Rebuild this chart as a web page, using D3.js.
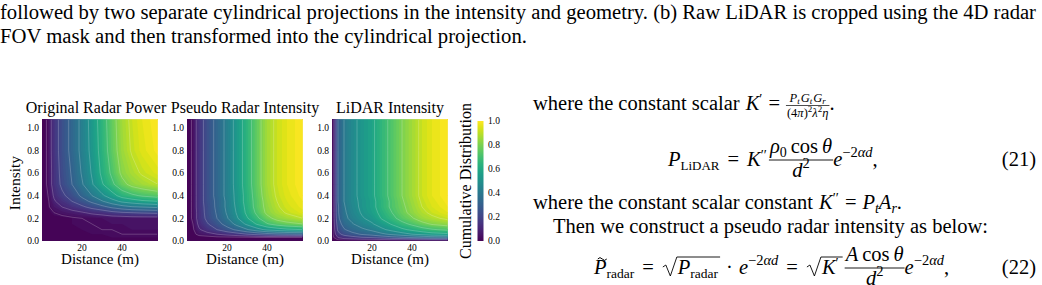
<!DOCTYPE html>
<html>
<head>
<meta charset="utf-8">
<script src="https://cdn.jsdelivr.net/npm/d3@7"></script>
<style>
  body { margin: 0; background: #fff; }
  svg text { font-family: "Liberation Serif", "Times New Roman", serif; fill: #000; }
</style>
</head>
<body>
<svg id="page" width="1042" height="285"></svg>
<script>
// grid knots (distance in m, intensity normalised)
const distanceKnots = [0, 3, 6, 10, 15, 20, 25, 30, 35, 40, 45, 50, 58];
const intensityKnots = [0, 0.03, 0.06, 0.1, 0.15, 0.2, 0.25, 0.3, 0.35, 0.4, 0.5, 0.6, 0.8, 1.077];

// cumulative distribution, one row per intensity knot (bottom row first)
const radarPower = [
  [0, 0, 0, 0, 0, 0, 0, 0, 0, 0, 0, 0, 0],
  [0, 0.00, 0.00, 0.00, 0.01, 0.01, 0.01, 0.01, 0.02, 0.02, 0.02, 0.02, 0.02],
  [0, 0.00, 0.00, 0.01, 0.01, 0.01, 0.02, 0.02, 0.02, 0.03, 0.03, 0.03, 0.03],
  [0, 0.00, 0.01, 0.01, 0.01, 0.02, 0.02, 0.03, 0.03, 0.03, 0.04, 0.04, 0.04],
  [0, 0.00, 0.01, 0.01, 0.02, 0.02, 0.03, 0.03, 0.04, 0.04, 0.05, 0.05, 0.05],
  [0, 0.00, 0.01, 0.01, 0.02, 0.03, 0.03, 0.04, 0.05, 0.05, 0.06, 0.06, 0.06],
  [0, 0.01, 0.03, 0.05, 0.07, 0.09, 0.12, 0.14, 0.17, 0.19, 0.20, 0.21, 0.22],
  [0, 0.02, 0.06, 0.10, 0.14, 0.18, 0.23, 0.27, 0.32, 0.36, 0.39, 0.40, 0.42],
  [0, 0.02, 0.09, 0.14, 0.20, 0.26, 0.32, 0.39, 0.46, 0.52, 0.55, 0.58, 0.60],
  [0, 0.03, 0.11, 0.18, 0.24, 0.32, 0.40, 0.48, 0.56, 0.64, 0.68, 0.71, 0.74],
  [0, 0.04, 0.14, 0.22, 0.30, 0.39, 0.49, 0.59, 0.68, 0.77, 0.83, 0.86, 0.90],
  [0, 0.04, 0.14, 0.23, 0.31, 0.41, 0.51, 0.62, 0.72, 0.82, 0.87, 0.91, 0.95],
  [0, 0.04, 0.15, 0.24, 0.33, 0.43, 0.53, 0.64, 0.75, 0.85, 0.91, 0.95, 0.99],
  [0, 0.04, 0.15, 0.24, 0.33, 0.43, 0.54, 0.65, 0.76, 0.86, 0.92, 0.96, 1.00]
];
const pseudoIntensity = [
  [0, 0, 0, 0, 0, 0, 0, 0, 0, 0, 0, 0, 0],
  [0, 0.00, 0.00, 0.00, 0.01, 0.01, 0.01, 0.01, 0.02, 0.02, 0.02, 0.02, 0.02],
  [0, 0.01, 0.05, 0.07, 0.10, 0.13, 0.16, 0.20, 0.23, 0.26, 0.28, 0.29, 0.30],
  [0, 0.02, 0.09, 0.14, 0.20, 0.26, 0.32, 0.39, 0.46, 0.52, 0.55, 0.58, 0.60],
  [0, 0.03, 0.12, 0.19, 0.26, 0.34, 0.43, 0.52, 0.61, 0.69, 0.74, 0.77, 0.80],
  [0, 0.04, 0.14, 0.22, 0.30, 0.39, 0.49, 0.59, 0.68, 0.77, 0.83, 0.86, 0.90],
  [0, 0.04, 0.14, 0.23, 0.31, 0.41, 0.51, 0.62, 0.72, 0.82, 0.87, 0.91, 0.95],
  [0, 0.04, 0.15, 0.23, 0.32, 0.42, 0.52, 0.63, 0.74, 0.83, 0.89, 0.93, 0.97],
  [0, 0.04, 0.15, 0.24, 0.32, 0.42, 0.53, 0.64, 0.74, 0.84, 0.90, 0.94, 0.98],
  [0, 0.04, 0.15, 0.24, 0.33, 0.43, 0.53, 0.64, 0.75, 0.85, 0.91, 0.95, 0.99],
  [0, 0.04, 0.15, 0.24, 0.33, 0.43, 0.54, 0.65, 0.76, 0.86, 0.92, 0.96, 1.00],
  [0, 0.04, 0.15, 0.24, 0.33, 0.43, 0.54, 0.65, 0.76, 0.86, 0.92, 0.96, 1.00],
  [0, 0.04, 0.15, 0.24, 0.33, 0.43, 0.54, 0.65, 0.76, 0.86, 0.92, 0.96, 1.00],
  [0, 0.04, 0.15, 0.24, 0.33, 0.43, 0.54, 0.65, 0.76, 0.86, 0.92, 0.96, 1.00]
];
const lidarIntensity = [
  [0, 0, 0, 0, 0, 0, 0, 0, 0, 0, 0, 0, 0],
  [0, 0.10, 0.14, 0.16, 0.19, 0.20, 0.23, 0.26, 0.28, 0.30, 0.32, 0.34, 0.35],
  [0, 0.17, 0.23, 0.27, 0.31, 0.34, 0.38, 0.42, 0.46, 0.50, 0.53, 0.56, 0.58],
  [0, 0.22, 0.29, 0.34, 0.38, 0.42, 0.48, 0.53, 0.58, 0.62, 0.66, 0.69, 0.72],
  [0, 0.25, 0.34, 0.39, 0.45, 0.49, 0.55, 0.61, 0.67, 0.72, 0.77, 0.81, 0.84],
  [0, 0.28, 0.37, 0.43, 0.49, 0.53, 0.61, 0.67, 0.74, 0.79, 0.85, 0.88, 0.92],
  [0, 0.29, 0.38, 0.45, 0.51, 0.56, 0.63, 0.70, 0.77, 0.83, 0.88, 0.92, 0.96],
  [0, 0.29, 0.39, 0.46, 0.52, 0.57, 0.65, 0.72, 0.78, 0.84, 0.90, 0.94, 0.98],
  [0, 0.30, 0.40, 0.47, 0.52, 0.57, 0.65, 0.72, 0.79, 0.85, 0.91, 0.95, 0.99],
  [0, 0.30, 0.40, 0.47, 0.53, 0.58, 0.66, 0.73, 0.80, 0.86, 0.92, 0.96, 1.00],
  [0, 0.30, 0.40, 0.47, 0.53, 0.58, 0.66, 0.73, 0.80, 0.86, 0.92, 0.96, 1.00],
  [0, 0.30, 0.40, 0.47, 0.53, 0.58, 0.66, 0.73, 0.80, 0.86, 0.92, 0.96, 1.00],
  [0, 0.30, 0.40, 0.47, 0.53, 0.58, 0.66, 0.73, 0.80, 0.86, 0.92, 0.96, 1.00],
  [0, 0.30, 0.40, 0.47, 0.53, 0.58, 0.66, 0.73, 0.80, 0.86, 0.92, 0.96, 1.00]
];

const panelTitles = ['Original Radar Power', 'Pseudo Radar Intensity', 'LiDAR Intensity'];
const panelGrids = [radarPower, pseudoIntensity, lidarIntensity];
const xTicks = [20, 40];
const yTicks = [0, 0.2, 0.4, 0.6, 0.8, 1.0];
const cbTicks = [0, 0.2, 0.4, 0.6, 0.8, 1.0];

const captionLines = [
  'followed by two separate cylindrical projections in the intensity and geometry. (b) Raw LiDAR is cropped using the 4D radar',
  'FOV mask and then transformed into the cylindrical projection.'
];

const svg = d3.select('#page');

// ---- caption text on top
svg.append('text').attr('x', 0).attr('y', 19).attr('font-size', 20.5)
  .attr('textLength', 1036).attr('lengthAdjust', 'spacingAndGlyphs').text(captionLines[0]);
svg.append('text').attr('x', 0).attr('y', 43).attr('font-size', 20.5)
  .attr('textLength', 527).attr('lengthAdjust', 'spacingAndGlyphs').text(captionLines[1]);

// ---- heatmaps
const lefts = [42, 187, 332];
const titleX = [96, 245, 390];
const pw = 116;
const plotTop = 119;
const plotBottom = 241;

const nx = distanceKnots.length;
const ny = intensityKnots.length;
const colX = d3.scaleLinear().domain(d3.range(nx)).range(distanceKnots).clamp(true);
const rowY = d3.scaleLinear().domain(d3.range(ny)).range(intensityKnots).clamp(true);
const fillLevels = d3.range(0, 1, 0.02);
const lineLevels = [0.03, 0.1, 0.2, 0.3, 0.4, 0.5, 0.6, 0.7, 0.8, 0.9];
const contours = d3.contours().size([nx, ny]);

const defs = svg.append('defs');

panelGrids.forEach((grid, k) => {
  const x = d3.scaleLinear().domain([0, 58]).range([lefts[k], lefts[k] + pw]);
  const y = d3.scaleLinear().domain([0, 1.077]).range([plotBottom, plotTop]);
  const values = grid.flat();
  const proj = d3.geoTransform({
    point(px, py) { this.stream.point(x(colX(px - 0.5)), y(rowY(py - 0.5))); }
  });
  const path = d3.geoPath(proj);

  defs.append('clipPath').attr('id', 'clip' + k).append('rect')
    .attr('x', lefts[k]).attr('y', plotTop).attr('width', pw).attr('height', plotBottom - plotTop);
  defs.append('clipPath').attr('id', 'clipIn' + k).append('rect')
    .attr('x', lefts[k] + 0.8).attr('y', plotTop + 0.8).attr('width', pw - 1.6).attr('height', plotBottom - plotTop - 1.6);

  svg.append('g').attr('clip-path', `url(#clip${k})`)
    .selectAll('path')
    .data(contours.thresholds(fillLevels)(values))
    .join('path')
    .attr('d', path)
    .attr('fill', d => d3.interpolateViridis(Math.min(1, d.value + 0.01)));

  svg.append('g').attr('clip-path', `url(#clipIn${k})`)
    .selectAll('path')
    .data(contours.thresholds(lineLevels)(values))
    .join('path')
    .attr('d', path)
    .attr('fill', 'none')
    .attr('stroke', '#fff')
    .attr('stroke-opacity', 0.3)
    .attr('stroke-width', 0.7);

  // ticks
  svg.append('g').selectAll('text')
    .data(yTicks)
    .join('text')
    .attr('x', lefts[k] - 3)
    .attr('y', d => y(d) + 3.3)
    .attr('text-anchor', 'end')
    .attr('font-size', 9.5)
    .text(d => d.toFixed(1));
  svg.append('g').selectAll('text')
    .data(xTicks)
    .join('text')
    .attr('x', d => x(d))
    .attr('y', 251)
    .attr('text-anchor', 'middle')
    .attr('font-size', 9.5)
    .text(d => d);

  svg.append('text')
    .attr('x', titleX[k])
    .attr('y', 113)
    .attr('text-anchor', 'middle')
    .attr('font-size', 16)
    .text(panelTitles[k]);
  svg.append('text')
    .attr('x', lefts[k] + pw / 2)
    .attr('y', 264)
    .attr('text-anchor', 'middle')
    .attr('font-size', 15)
    .text('Distance (m)');
});

svg.append('text')
  .attr('transform', 'translate(20,183) rotate(-90)')
  .attr('text-anchor', 'middle')
  .attr('font-size', 15.5)
  .text('Intensity');

// ---- colorbar
const cbY = d3.scaleLinear().domain([0, 1]).range([241, 121]);
const grad = defs.append('linearGradient').attr('id', 'viridis')
  .attr('x1', 0).attr('y1', 1).attr('x2', 0).attr('y2', 0);
grad.selectAll('stop')
  .data(d3.range(0, 1.0001, 0.05))
  .join('stop')
  .attr('offset', d => d)
  .attr('stop-color', d => d3.interpolateViridis(d));
svg.append('rect')
  .attr('x', 477.5).attr('y', cbY(1)).attr('width', 6).attr('height', cbY(0) - cbY(1))
  .attr('fill', 'url(#viridis)');
svg.append('g').selectAll('text')
  .data(cbTicks)
  .join('text')
  .attr('x', 488)
  .attr('y', d => cbY(d) + 3.3)
  .attr('font-size', 9.5)
  .text(d => d.toFixed(1));
svg.append('text')
  .attr('transform', 'translate(471,181) rotate(-90)')
  .attr('text-anchor', 'middle')
  .attr('font-size', 16)
  .text('Cumulative Distribution');

// ---- right column text and equations
const probe = svg.append('text').attr('x', -999).attr('y', -999);
function textWidth(t, fs, it) {
  probe.attr('font-size', fs).attr('font-style', it ? 'italic' : 'normal').text(t);
  return probe.node().getComputedTextLength();
}

function typeset(g, x, y, items) {
  for (const it of items) {
    if (it.sp !== undefined) { x += it.sp; continue; }
    if (it.frac) {
      const wn = typeset(null, 0, 0, it.frac[0]);
      const wd = typeset(null, 0, 0, it.frac[1]);
      const w = Math.max(wn, wd) + 2 * it.pad;
      if (g) {
        typeset(g, x + (w - wn) / 2, y + it.num, it.frac[0]);
        typeset(g, x + (w - wd) / 2, y + it.den, it.frac[1]);
        g.append('line')
          .attr('x1', x).attr('x2', x + w)
          .attr('y1', y + it.bar).attr('y2', y + it.bar)
          .attr('stroke', '#000').attr('stroke-width', it.lw || 0.9);
      }
      x += w;
      continue;
    }
    if (it.sqrt) {
      const w = typeset(null, 0, 0, it.sqrt);
      const rw = 16;
      if (g) {
        g.append('path')
          .attr('d', `M${x + 1},${y - 7} L${x + 4},${y - 9} L${x + 8.5},${y + 2} L${x + rw - 1},${y + it.top} H${x + rw + w + 2}`)
          .attr('fill', 'none').attr('stroke', '#000').attr('stroke-width', 0.9);
        typeset(g, x + rw, y, it.sqrt);
      }
      x += rw + w + 2;
      continue;
    }
    const fs = it.fs || 20.5;
    const w = textWidth(it.t, fs, it.it);
    if (g) {
      g.append('text')
        .attr('x', x).attr('y', y + (it.dy || 0))
        .attr('font-size', fs)
        .attr('font-style', it.it ? 'italic' : null)
        .text(it.t);
      if (it.tilde) {
        const cx = x + w / 2 + 2;
        g.append('path')
          .attr('d', `M${cx - 4.5},${y - 15} q2.2,-2.8 4.5,0 t4.5,0`)
          .attr('fill', 'none').attr('stroke', '#000').attr('stroke-width', 1);
      }
    }
    x += w;
  }
  return x;
}

const V = (t, o = {}) => Object.assign({ t, it: true }, o);
const R = (t, o = {}) => Object.assign({ t }, o);
const sub = (t, it, fs = 13.5) => ({ t, it, fs, dy: 4 });
const sup = (t, it, fs = 14.5) => ({ t, it, fs, dy: -9 });
const prime = (n) => ({ t: n === 2 ? '′′' : '′', fs: 14, dy: -6 });
const eq = [{ sp: 8 }, R('='), { sp: 8 }];
const eSup = [V('e'), sup('−2'), sup('αd', true)];

const text = svg.append('g');

typeset(text, 533, 110, [
  R('where the constant scalar'), { sp: 6 }, V('K'), prime(1), { sp: 6 }, R('='), { sp: 6 },
  {
    frac: [
      [V('P', { fs: 12.5 }), { t: 't', it: true, fs: 9, dy: 2.5 }, { sp: 1 }, V('G', { fs: 12.5 }),
        { t: 't', it: true, fs: 9, dy: 2.5 }, { sp: 1 }, V('G', { fs: 12.5 }), { t: 'r', it: true, fs: 9, dy: 2.5 }],
      [R('(4', { fs: 12.5 }), V('π', { fs: 12.5 }), R(')', { fs: 12.5 }), { t: '2', fs: 9, dy: -5 },
        V('λ', { fs: 12.5 }), { t: '2', fs: 9, dy: -5 }, V('η', { fs: 12.5 })]
    ],
    num: -8.5, den: 6.5, bar: -4.5, pad: 1, lw: 0.7
  },
  R('.')
]);

typeset(text, 668, 166, [
  V('P'), sub('LiDAR', false, 13), ...eq, V('K'), prime(2), { sp: 2 },
  {
    frac: [
      [V('ρ'), { t: '0', fs: 14, dy: 4 }, { sp: 4 }, R('cos'), { sp: 4 }, V('θ')],
      [V('d'), sup('2')]
    ],
    num: -13, den: 11, bar: -6, pad: 1
  },
  ...eSup, R(',')
]);
text.append('text').attr('x', 1036).attr('y', 166).attr('text-anchor', 'end').attr('font-size', 20.5).text('(21)');

typeset(text, 533, 209, [
  R('where the constant scalar constant'), { sp: 6 }, V('K'), prime(2), { sp: 6 }, R('='), { sp: 6 },
  V('P'), sub('t', true, 14), V('A'), sub('r', true, 14), R('.')
]);
text.append('text').attr('x', 553).attr('y', 233).attr('font-size', 20.5)
  .text('Then we construct a pseudo radar intensity as below:');

typeset(text, 594, 274, [
  V('P', { tilde: true }), sub('radar'), ...eq,
  { sqrt: [V('P'), sub('radar')], top: -17 }, { sp: 6 }, R('·'), { sp: 6 },
  ...eSup, ...eq,
  { sqrt: [V('K'), prime(1), { sp: 2 }], top: -17 }, { sp: 2 },
  {
    frac: [
      [V('A'), { sp: 4 }, R('cos'), { sp: 4 }, V('θ')],
      [V('d'), sup('2')]
    ],
    num: -13, den: 11, bar: -6, pad: 1
  },
  ...eSup, R(',')
]);
text.append('text').attr('x', 1036).attr('y', 274).attr('text-anchor', 'end').attr('font-size', 20.5).text('(22)');
probe.remove();
</script>
</body>
</html>
